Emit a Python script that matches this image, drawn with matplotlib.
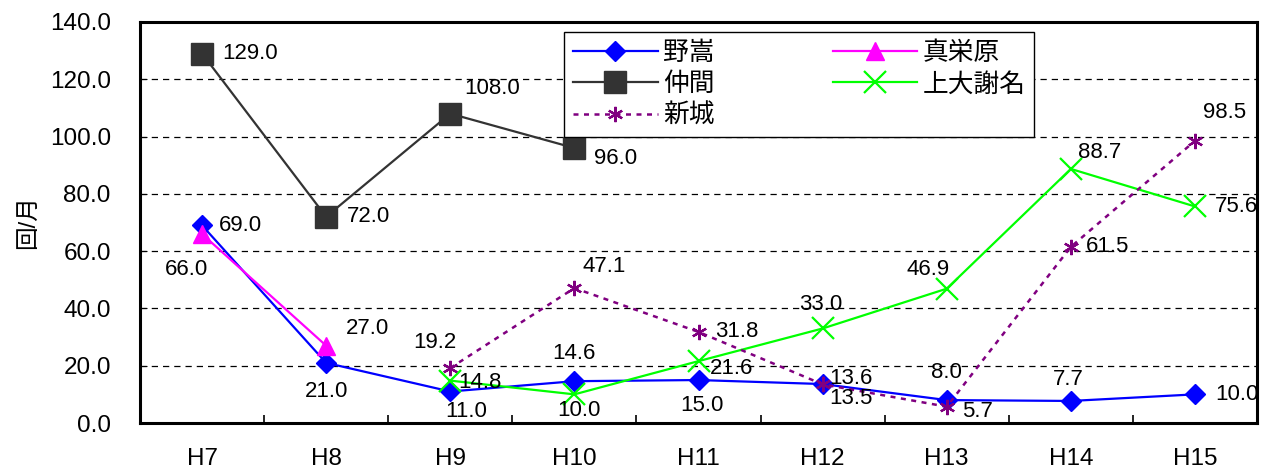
import numpy as np
import matplotlib
matplotlib.use("Agg")
import matplotlib.pyplot as plt
from matplotlib.ticker import FixedLocator, FormatStrFormatter

plt.rcParams['font.family'] = ['Liberation Sans', 'Noto Sans CJK JP', 'DejaVu Sans']

YEARS = ["H7", "H8", "H9", "H10", "H11", "H12", "H13", "H14", "H15"]
nan = np.nan

NODAKE = [69.0, 21.0, 11.0, 14.6, 15.0, 13.6, 8.0, 7.7, 10.0]
MAEHARA = [66.0, 27.0, nan, nan, nan, nan, nan, nan, nan]
NAKAMA = [129.0, 72.0, 108.0, 96.0, nan, nan, nan, nan, nan]
UEOJANA = [nan, nan, 14.8, 10.0, 21.6, 33.0, 46.9, 88.7, 75.6]
ARAGUSUKU = [nan, nan, 19.2, 47.1, 31.8, 13.5, 5.7, 61.5, 98.5]

# 系列ごとのスタイル
SERIES = [
    ("野嵩", NODAKE, dict(color="#0000FF", marker="D", ms=10, lw=1.6, ls="-")),
    ("真栄原", MAEHARA, dict(color="#FF00FF", marker="^", ms=13, lw=1.6, ls="-")),
    ("仲間", NAKAMA, dict(color="#333333", marker="s", ms=16, lw=1.6, ls="-")),
    ("上大謝名", UEOJANA, dict(color="#00FF00", marker="x", ms=16, mew=1.6, lw=1.6, ls="-")),
    ("新城", ARAGUSUKU, dict(color="#800080", marker=(6, 2, 0), ms=11, mew=1.6, lw=1.8,
                            ls=(0, (2, 2.2)))),
]

# ラベル位置 (ピクセル単位のオフセット)
OFFSETS = {
    "野嵩": [(38, 0), (0, -29), (16, -20), (0, 28), (3, -25), (28, 6), (0, 28), (-3, 21), (42, 0)],
    "真栄原": [(-16, -36), (41, 17)],
    "仲間": [(48, 0), (42, 0), (42, 25), (41, -10)],
    "上大謝名": [None, None, (30, -2), (5, -16), (33, -7), (-2, 24), (-19, 19), (29, 16), (42, 0)],
    "新城": [None, None, (-15, 26), (30, 22), (38, 0), (28, -14), (31, -5), (37, 0), (30, 28)],
}

fig = plt.figure(figsize=(12.7, 4.72), dpi=100)
ax = fig.add_axes([0.1102, 0.1038, 0.8796, 0.8496])

x = np.arange(len(YEARS))
handles = {}
for name, vals, style in SERIES:
    line, = ax.plot(x, vals, label=name, **style)
    handles[name] = line
    offs = OFFSETS[name]
    for i, v in enumerate(vals):
        if np.isnan(v) or i >= len(offs) or offs[i] is None:
            continue
        ax.annotate(f"{v:.1f}", (x[i], v), xytext=offs[i], textcoords="offset pixels",
                    ha="center", va="center", fontsize=16, color="black")

ax.set_xlim(-0.5, len(YEARS) - 0.5)
ax.set_ylim(0, 140)
ax.set_xticks(x)
ax.set_xticklabels(YEARS)
ax.xaxis.set_minor_locator(FixedLocator(np.arange(0.5, len(YEARS) - 1, 1.0)))
ax.tick_params(axis='x', which='major', length=0, labelsize=17.5, pad=18)
ax.tick_params(axis='x', which='minor', direction='in', length=6, width=1.2)
ax.set_yticks(np.arange(0, 141, 20))
ax.yaxis.set_major_formatter(FormatStrFormatter("%.1f"))
ax.tick_params(axis='y', direction='in', length=5, labelsize=17.5, pad=21)

for v in range(20, 140, 20):
    ax.axhline(v, color="black", lw=0.9, ls=(0, (5, 4)), zorder=0)

for s in ax.spines.values():
    s.set_linewidth(2.2)

ax.set_ylabel("回/月", fontsize=17, labelpad=8)

order = ["野嵩", "仲間", "新城", "真栄原", "上大謝名"]
leg = ax.legend([handles[n] for n in order], order, ncol=2, loc="upper left",
                bbox_to_anchor=(0.3795, 0.976), fontsize=18.5, handlelength=3.3,
                labelspacing=0.3, columnspacing=4.6, borderpad=0.35, handletextpad=0.2,
                borderaxespad=0, fancybox=False, framealpha=1, edgecolor="black")
leg.get_frame().set_linewidth(1.0)

fig.savefig("out.png", dpi=100)
